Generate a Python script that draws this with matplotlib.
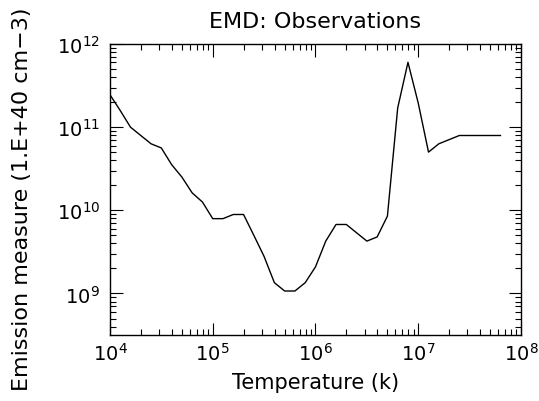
import matplotlib
matplotlib.use('Agg')
import matplotlib.pyplot as plt
import matplotlib.transforms as mtransforms
import numpy as np

# log10 of temperature and emission measure
log_t = [4.0, 4.1, 4.2, 4.3, 4.4, 4.5, 4.6, 4.7, 4.8, 4.9,
         5.0, 5.1, 5.2, 5.3, 5.4, 5.5, 5.6, 5.7, 5.8, 5.9,
         6.0, 6.1, 6.2, 6.3, 6.4, 6.5, 6.6, 6.7, 6.8, 6.9,
         7.0, 7.1, 7.2, 7.3, 7.4, 7.5, 7.6, 7.7, 7.8]
log_em = [11.39, 11.20, 11.00, 10.90, 10.80, 10.75, 10.55, 10.40, 10.21, 10.10,
          9.90, 9.90, 9.95, 9.95, 9.70, 9.445, 9.13, 9.03, 9.03, 9.13,
          9.32, 9.63, 9.83, 9.83, 9.73, 9.63, 9.68, 9.93, 11.23, 11.78,
          11.29, 10.70, 10.80, 10.85, 10.90, 10.90, 10.90, 10.90, 10.90]

temp = 10.0 ** np.array(log_t)
em = 10.0 ** np.array(log_em)

plt.rcParams['font.family'] = ['DejaVu Sans']
plt.rcParams['mathtext.fontset'] = 'dejavusans'

fig = plt.figure(figsize=(5.39, 4.02), dpi=100)
ax = fig.add_axes([0.204, 0.164, 0.7626, 0.724])

ax.plot(temp, em, color='black', linewidth=1.0)
ax.set_xscale('log')
ax.set_yscale('log')
ax.set_xlim(1e4, 1e8)
ax.set_ylim(10 ** 8.5, 1e12)

ax.tick_params(which='both', direction='in', top=True, right=True, labelsize=14, colors='black')
ax.tick_params(which='major', length=9, width=0.8)
ax.tick_params(which='minor', length=4.5, width=0.8)
ax.tick_params(axis='x', which='major', pad=5)
ax.tick_params(axis='y', which='major', pad=7)
for s in ax.spines.values():
    s.set_linewidth(1.0)

ax.set_title('EMD: Observations', fontsize=16, color='black', pad=12)
ax.set_xlabel('Temperature (k)', fontsize=15, labelpad=6)
ax.set_ylabel('Emission measure (1.E+40 cm\u22123)', fontsize=16)
# put the y label near the left edge of the figure, like the original
ax.yaxis.label.set_transform(mtransforms.blended_transform_factory(fig.transFigure, ax.transAxes))
ax.yaxis.label.set_position((32 / 539, 0.47))
ax.yaxis.set_label_coords(32 / 539, 0.47,
                          transform=mtransforms.blended_transform_factory(fig.transFigure, ax.transAxes))

fig.savefig('out.png', dpi=100)
